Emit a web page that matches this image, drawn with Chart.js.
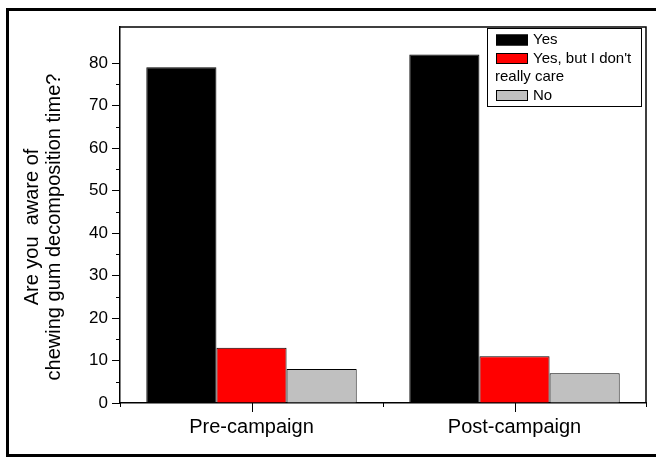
<!DOCTYPE html>
<html>
<head>
<meta charset="utf-8">
<script src="https://cdn.jsdelivr.net/npm/chart.js@4.4.1/dist/chart.umd.min.js"></script>
<style>
html, body { margin: 0; padding: 0; background: #fff; }
#wrap { width: 656px; height: 459px; position: relative; }
</style>
</head>
<body>
<div id="wrap"><canvas id="myChart-gum"></canvas></div>
<script>
// data
const categories = ['Pre-campaign', 'Post-campaign'];
const seriesNames = ['Yes', "Yes, but I don't really care", 'No'];
const yesValues = [79, 82];
const dontCareValues = [13, 11];
const noValues = [8, 7];
const yTickLabels = [0, 10, 20, 30, 40, 50, 60, 70, 80];
const yTitle = ['Are you  aware of', 'chewing gum decomposition time?'];

const FONT = '"Liberation Sans", Arial, sans-serif';

// frame, box, minor ticks, y title and legend drawn around the chart
const framePlugin = {
    id: 'framePlugin',
    beforeDraw(chart) {
        const ctx = chart.ctx;
        ctx.save();
        ctx.fillStyle = '#fff';
        ctx.fillRect(0, 0, chart.width, chart.height);
        ctx.strokeStyle = '#000';
        ctx.lineWidth = 3;
        ctx.strokeRect(7.5, 9.5, 700, 446);
        ctx.restore();
    },
    afterDraw(chart) {
        const ctx = chart.ctx;
        const a = chart.chartArea;
        const x = chart.scales.x, y = chart.scales.y;
        ctx.save();
        ctx.strokeStyle = '#000';
        ctx.lineWidth = 1.5;
        // top + right of the plot box
        ctx.beginPath();
        ctx.moveTo(a.left, a.top);
        ctx.lineTo(a.right, a.top);
        ctx.lineTo(a.right, a.bottom);
        ctx.stroke();

        // minor y ticks
        ctx.lineWidth = 1;
        y.ticks.forEach(t => {
            if (t.value % 10 !== 0) {
                const py = Math.round(y.getPixelForValue(t.value)) + 0.5;
                ctx.beginPath();
                ctx.moveTo(a.left - 4, py);
                ctx.lineTo(a.left, py);
                ctx.stroke();
            }
        });

        // x ticks: long at category centres, short at boundaries
        const n = categories.length;
        const cw = (a.right - a.left) / n;
        for (let i = 0; i <= n; i++) {
            const px = Math.round(a.left + i * cw) + 0.5;
            ctx.beginPath();
            ctx.moveTo(px, a.bottom);
            ctx.lineTo(px, a.bottom + 4);
            ctx.stroke();
        }
        for (let i = 0; i < n; i++) {
            const px = Math.round(x.getPixelForValue(i)) + 0.5;
            ctx.beginPath();
            ctx.moveTo(px, a.bottom);
            ctx.lineTo(px, a.bottom + 9);
            ctx.stroke();
        }

        // y title, two rotated lines
        ctx.save();
        ctx.translate(32, 227);
        ctx.rotate(-Math.PI / 2);
        ctx.font = '20px ' + FONT;
        ctx.fillStyle = '#000';
        ctx.textAlign = 'center';
        ctx.textBaseline = 'middle';
        yTitle.forEach((t, i) => ctx.fillText(t, 0, i * 22));
        ctx.restore();

        // legend box
        const lb = {x: 487.5, y: 28.5, w: 154, h: 78};
        ctx.fillStyle = '#fff';
        ctx.fillRect(lb.x, lb.y, lb.w, lb.h);
        ctx.strokeStyle = '#000';
        ctx.lineWidth = 1;
        ctx.strokeRect(lb.x, lb.y, lb.w, lb.h);
        ctx.font = '15px ' + FONT;
        ctx.textBaseline = 'middle';
        ctx.textAlign = 'left';
        let rowY = 40;
        const step = 18.5;
        const swX = 496, swW = 32, swH = 11, txX = 533;
        chart.data.datasets.forEach(ds => {
            ctx.fillStyle = ds.backgroundColor;
            ctx.fillRect(swX, rowY - swH / 2, swW, swH);
            ctx.strokeStyle = '#000';
            ctx.strokeRect(swX + 0.5, rowY - swH / 2 + 0.5, swW - 1, swH - 1);
            ctx.fillStyle = '#000';
            // wrap long labels, continuation starts under the swatch
            const words = ds.label.split(' ');
            let line = '';
            let lx = txX;
            const maxW = lb.x + lb.w - 3;
            words.forEach(w => {
                const test = line ? line + ' ' + w : w;
                if (lx + ctx.measureText(test).width > maxW && line) {
                    ctx.fillText(line, lx, rowY);
                    rowY += step;
                    lx = swX - 1;
                    line = w;
                } else {
                    line = test;
                }
            });
            ctx.fillText(line, lx, rowY);
            rowY += step;
        });
        ctx.restore();
    }
};

const ctx1 = document.getElementById('myChart-gum').getContext('2d');
const myChart1 = new Chart(ctx1, {
    type: 'bar',
    data: {
        labels: categories,
        datasets: [{
            label: seriesNames[0],
            data: yesValues,
            backgroundColor: '#000000',
            borderColor: '#000000',
            borderWidth: 1
        }, {
            label: seriesNames[1],
            data: dontCareValues,
            backgroundColor: '#FF0000',
            borderColor: '#000000',
            borderWidth: 1
        }, {
            label: seriesNames[2],
            data: noValues,
            backgroundColor: '#C0C0C0',
            borderColor: '#000000',
            borderWidth: 1
        }]
    },
    options: {
        responsive: true,
        maintainAspectRatio: false,
        animation: false,
        categoryPercentage: 0.8,
        barPercentage: 1.0,
        layout: { padding: { top: 27, right: 10, left: 0, bottom: 0 } },
        plugins: {
            legend: { display: false },
            tooltip: { enabled: false }
        },
        scales: {
            x: {
                grid: { display: true, drawOnChartArea: false, tickLength: 10, tickColor: 'transparent' },
                border: { color: '#000', width: 1.5 },
                ticks: { color: '#000', padding: 2, font: { family: FONT, size: 20 } },
                afterFit(scale) { scale.height = 56; }
            },
            y: {
                min: 0,
                max: 88.5,
                afterBuildTicks(scale) {
                    scale.ticks = scale.ticks.filter(t => t.value % 5 === 0 && t.value <= 85);
                },
                ticks: {
                    stepSize: 5,
                    color: '#000',
                    padding: 4,
                    font: { family: FONT, size: 17 },
                    callback: v => yTickLabels.includes(v) ? String(v) : ''
                },
                grid: {
                    drawOnChartArea: false,
                    tickLength: 8,
                    tickColor: c => (c.tick && c.tick.value % 10 === 0) ? '#000' : 'transparent'
                },
                border: { color: '#000', width: 1.5 },
                afterFit(scale) { scale.width = 120; }
            }
        }
    },
    plugins: [framePlugin]
});
</script>
</body>
</html>
